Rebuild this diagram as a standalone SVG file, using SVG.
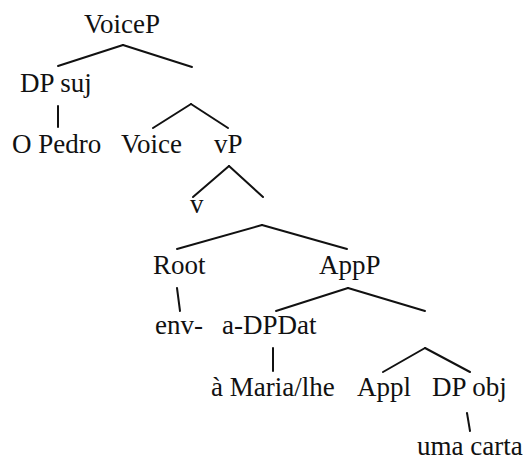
<svg xmlns="http://www.w3.org/2000/svg" width="528" height="461" viewBox="0 0 528 461">
<style>
text{font-family:'Liberation Serif','Times New Roman','DejaVu Serif',serif;font-size:27px;fill:#111}
.c line{stroke:#111;stroke-width:2;stroke-linecap:round}
</style>
<rect width="528" height="461" fill="#fff"/>
<g class="c" id="connectors">
<line x1="123" y1="45" x2="58" y2="66"/>
<line x1="123" y1="45" x2="192" y2="67"/>
<line x1="58" y1="106" x2="58" y2="127"/>
<line x1="191" y1="104" x2="153" y2="128"/>
<line x1="191" y1="104" x2="228" y2="128"/>
<line x1="229" y1="166" x2="193" y2="197"/>
<line x1="229" y1="166" x2="263" y2="197"/>
<line x1="262" y1="225" x2="177" y2="249"/>
<line x1="262" y1="225" x2="347" y2="249"/>
<line x1="177" y1="288" x2="180" y2="311"/>
<line x1="348" y1="288" x2="276" y2="311"/>
<line x1="348" y1="288" x2="425" y2="311"/>
<line x1="273" y1="348" x2="273" y2="371"/>
<line x1="425" y1="348" x2="383" y2="372"/>
<line x1="425" y1="348" x2="470" y2="372"/>
<line x1="467" y1="413" x2="470" y2="431"/>
</g>
<g id="VoiceP"><text x="84" y="33">VoiceP</text></g>
<g id="DPsuj"><text x="20" y="92">DP suj</text></g>
<g id="OPedro"><text x="12" y="153">O Pedro</text></g>
<g id="Voice"><text x="121" y="153">Voice</text></g>
<g id="vP"><text x="214" y="153">vP</text></g>
<g id="v"><text x="190" y="213">v</text></g>
<g id="Root"><text x="153" y="274">Root</text></g>
<g id="AppP"><text x="319" y="274">AppP</text></g>
<g id="env"><text x="155" y="334">env-</text></g>
<g id="aDPDat"><text x="222" y="334">a-DPDat</text></g>
<g id="aMaria"><text x="211" y="396">à Maria/lhe</text></g>
<g id="Appl"><text x="357" y="396">Appl</text></g>
<g id="DPobj"><text x="432" y="396">DP obj</text></g>
<g id="umacarta"><text x="417" y="455">uma carta</text></g>
</svg>
